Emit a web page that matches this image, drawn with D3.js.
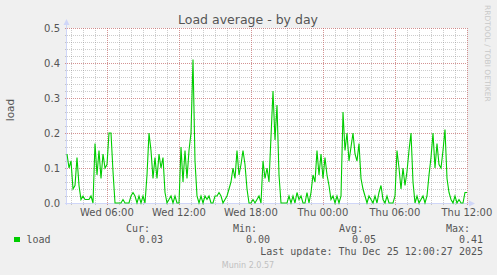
<!DOCTYPE html>
<html>
<head>
<meta charset="utf-8">
<script src="https://cdn.jsdelivr.net/npm/d3@7"></script>
<style>
  body { margin: 0; background: #f0f0f0; }
  svg { display: block; }
</style>
</head>
<body>
<div id="chart"></div>
<script>
// load average, one sample every 10 minutes from Wed 02:40 to Thu 12:00
const loadValues = [
  0.14, 0.10, 0.12, 0.04, 0.05, 0.13, 0.05, 0.01, 0.02, 0.01,
  0.01, 0.01, 0.02, 0.00, 0.17, 0.08, 0.15, 0.07, 0.14, 0.10,
  0.11, 0.20, 0.20, 0.09, 0.00, 0.00, 0.00, 0.00, 0.01, 0.00,
  0.00, 0.00, 0.02, 0.03, 0.02, 0.00, 0.02, 0.00, 0.02, 0.00,
  0.08, 0.20, 0.15, 0.07, 0.13, 0.07, 0.14, 0.10, 0.13, 0.03,
  0.00, 0.01, 0.02, 0.00, 0.02, 0.00, 0.00, 0.16, 0.06, 0.15,
  0.07, 0.15, 0.20, 0.41, 0.12, 0.02, 0.00, 0.02, 0.00, 0.02,
  0.01, 0.02, 0.00, 0.00, 0.02, 0.02, 0.03, 0.02, 0.00, 0.01,
  0.02, 0.04, 0.06, 0.10, 0.07, 0.15, 0.08, 0.11, 0.15, 0.11,
  0.04, 0.00, 0.00, 0.01, 0.00, 0.01, 0.02, 0.00, 0.12, 0.07,
  0.10, 0.06, 0.19, 0.32, 0.18, 0.28, 0.08, 0.00, 0.00, 0.00,
  0.00, 0.02, 0.00, 0.02, 0.00, 0.03, 0.01, 0.02, 0.00, 0.00,
  0.03, 0.00, 0.03, 0.08, 0.06, 0.15, 0.08, 0.14, 0.07, 0.13,
  0.08, 0.05, 0.01, 0.02, 0.00, 0.02, 0.00, 0.02, 0.26, 0.15,
  0.20, 0.12, 0.16, 0.20, 0.14, 0.12, 0.17, 0.07, 0.04, 0.02,
  0.00, 0.02, 0.01, 0.00, 0.02, 0.00, 0.03, 0.05, 0.01, 0.00,
  0.02, 0.00, 0.00, 0.00, 0.02, 0.15, 0.10, 0.04, 0.10, 0.05,
  0.09, 0.15, 0.20, 0.06, 0.00, 0.02, 0.00, 0.01, 0.02, 0.00,
  0.02, 0.08, 0.13, 0.20, 0.10, 0.17, 0.11, 0.10, 0.15, 0.21,
  0.07, 0.03, 0.01, 0.00, 0.02, 0.00, 0.01, 0.00, 0.00, 0.03,
  0.03
];

const startTime = new Date(2025, 11, 24, 2, 40, 27);
const endTime = new Date(2025, 11, 25, 12, 0, 27);
const stepMinutes = 10;

const yTickValues = [0, 0.1, 0.2, 0.3, 0.4, 0.5];
const xTickLabels = ['Wed 06:00', 'Wed 12:00', 'Wed 18:00', 'Thu 00:00', 'Thu 06:00', 'Thu 12:00'];
const xTickTimes = [
  new Date(2025, 11, 24, 6), new Date(2025, 11, 24, 12), new Date(2025, 11, 24, 18),
  new Date(2025, 11, 25, 0), new Date(2025, 11, 25, 6), new Date(2025, 11, 25, 12)
];

const legendHeaders = ['Cur:', 'Min:', 'Avg:', 'Max:'];
const legendValues = ['0.03', '0.00', '0.05', '0.41'];
const lastUpdate = 'Last update: Thu Dec 25 12:00:27 2025';

const W = 497, H = 275;
const plot = { left: 67, right: 467, top: 28, bottom: 203 };
const fontSans = 'DejaVu Sans, sans-serif';
const fontMono = 'DejaVu Sans Mono, monospace';

const data = loadValues.map((v, i) => ({
  t: new Date(startTime.getTime() + i * stepMinutes * 60000),
  v: v
}));

const svg = d3.select('#chart').append('svg')
  .attr('width', W)
  .attr('height', H)
  .style('background', '#f0f0f0');

const x = d3.scaleTime().domain([startTime, endTime]).range([plot.left, plot.right]);
const y = d3.scaleLinear().domain([0, 0.5]).range([plot.bottom, plot.top]);

// canvas
svg.append('rect')
  .attr('x', plot.left).attr('y', plot.top)
  .attr('width', plot.right - plot.left).attr('height', plot.bottom - plot.top)
  .attr('fill', '#ffffff');

// grid
const minorY = d3.range(0, 0.5001, 0.02);
const hours = d3.timeHour.range(startTime, endTime);
const grid = svg.append('g').attr('shape-rendering', 'crispEdges');

grid.selectAll('.hminor').data(minorY).enter().append('line')
  .attr('x1', plot.left - 2).attr('x2', plot.right)
  .attr('y1', d => Math.round(y(d)) + 0.5).attr('y2', d => Math.round(y(d)) + 0.5)
  .attr('stroke', 'rgba(128,128,128,0.4)')
  .attr('stroke-dasharray', '1,1');

grid.selectAll('.vminor').data(hours).enter().append('line')
  .attr('x1', d => Math.round(x(d)) + 0.5).attr('x2', d => Math.round(x(d)) + 0.5)
  .attr('y1', plot.top).attr('y2', plot.bottom + 2)
  .attr('stroke', 'rgba(128,128,128,0.4)')
  .attr('stroke-dasharray', '1,1');

grid.selectAll('.hmajor').data(yTickValues).enter().append('line')
  .attr('x1', plot.left - 2).attr('x2', plot.right)
  .attr('y1', d => Math.round(y(d)) + 0.5).attr('y2', d => Math.round(y(d)) + 0.5)
  .attr('stroke', 'rgba(220,90,90,0.5)')
  .attr('stroke-dasharray', '1,1');

grid.selectAll('.vmajor').data(xTickTimes).enter().append('line')
  .attr('x1', d => Math.round(x(d)) + 0.5).attr('x2', d => Math.round(x(d)) + 0.5)
  .attr('y1', plot.top).attr('y2', plot.bottom + 2)
  .attr('stroke', 'rgba(220,90,90,0.5)')
  .attr('stroke-dasharray', '1,1');

// axes (rrdtool style) with arrows
const axisColor = '#cfd6f8';
svg.append('line')
  .attr('x1', plot.left - 0.5).attr('x2', plot.left - 0.5)
  .attr('y1', plot.bottom + 2).attr('y2', plot.top - 5)
  .attr('stroke', axisColor);
svg.append('line')
  .attr('x1', plot.left - 2).attr('x2', plot.right + 4)
  .attr('y1', plot.bottom + 0.5).attr('y2', plot.bottom + 0.5)
  .attr('stroke', axisColor);
svg.append('path')
  .attr('d', `M${plot.left - 3.5},${plot.top - 3} L${plot.left - 0.5},${plot.top - 9} L${plot.left + 2.5},${plot.top - 3} Z`)
  .attr('fill', axisColor);
svg.append('path')
  .attr('d', `M${plot.right + 2},${plot.bottom - 2.5} L${plot.right + 8},${plot.bottom + 0.5} L${plot.right + 2},${plot.bottom + 3.5} Z`)
  .attr('fill', axisColor);

// tick labels
svg.append('g').selectAll('text').data(yTickValues).enter().append('text')
  .attr('x', plot.left - 7)
  .attr('y', d => y(d) + 3.5)
  .attr('text-anchor', 'end')
  .attr('font-family', fontSans).attr('font-size', 10)
  .attr('fill', '#555')
  .text(d => d3.format('.1f')(d));

svg.append('g').selectAll('text').data(xTickTimes).enter().append('text')
  .attr('x', d => x(d))
  .attr('y', 215.5)
  .attr('text-anchor', 'middle')
  .attr('font-family', fontSans).attr('font-size', 10)
  .attr('fill', '#555')
  .text((d, i) => xTickLabels[i]);

// series
const line = d3.line()
  .x(d => x(d.t))
  .y(d => y(d.v));

svg.append('path')
  .datum(data)
  .attr('fill', 'none')
  .attr('stroke', '#00cc00')
  .attr('stroke-width', 1.1)
  .attr('stroke-linejoin', 'miter')
  .attr('d', line);

// title and labels
svg.append('text')
  .attr('x', 248).attr('y', 23.5)
  .attr('text-anchor', 'middle')
  .attr('font-family', fontSans).attr('font-size', 12.5)
  .attr('fill', '#555')
  .text('Load average - by day');

svg.append('text')
  .attr('transform', 'translate(13.5,110) rotate(-90)')
  .attr('text-anchor', 'middle')
  .attr('font-family', fontSans).attr('font-size', 10.5)
  .attr('fill', '#555')
  .text('load');

svg.append('text')
  .attr('transform', 'translate(485,5) rotate(90)')
  .attr('font-family', fontSans).attr('font-size', 7.5)
  .attr('fill', '#c8c8c8')
  .text('RRDTOOL / TOBI OETIKER');

// legend
const headerRight = [150, 257, 363, 470];
const valueRight = [163, 270, 376, 483];

svg.append('g').selectAll('text').data(legendHeaders).enter().append('text')
  .attr('x', (d, i) => headerRight[i]).attr('y', 231.5)
  .attr('text-anchor', 'end')
  .attr('font-family', fontMono).attr('font-size', 10)
  .attr('fill', '#555')
  .text(d => d);

svg.append('g').selectAll('text').data(legendValues).enter().append('text')
  .attr('x', (d, i) => valueRight[i]).attr('y', 243)
  .attr('text-anchor', 'end')
  .attr('font-family', fontMono).attr('font-size', 10)
  .attr('fill', '#555')
  .text(d => d);

svg.append('rect')
  .attr('x', 14).attr('y', 237)
  .attr('width', 6).attr('height', 5)
  .attr('fill', '#00cc00');

svg.append('text')
  .attr('x', 26.5).attr('y', 243)
  .attr('font-family', fontMono).attr('font-size', 10)
  .attr('fill', '#555')
  .text('load');

svg.append('text')
  .attr('x', 483).attr('y', 254.5)
  .attr('text-anchor', 'end')
  .attr('font-family', fontMono).attr('font-size', 10)
  .attr('fill', '#555')
  .text(lastUpdate);

svg.append('text')
  .attr('x', 248).attr('y', 267.5)
  .attr('text-anchor', 'middle')
  .attr('font-family', fontSans).attr('font-size', 8)
  .attr('fill', '#c0c0c0')
  .text('Munin 2.0.57');
</script>
</body>
</html>
